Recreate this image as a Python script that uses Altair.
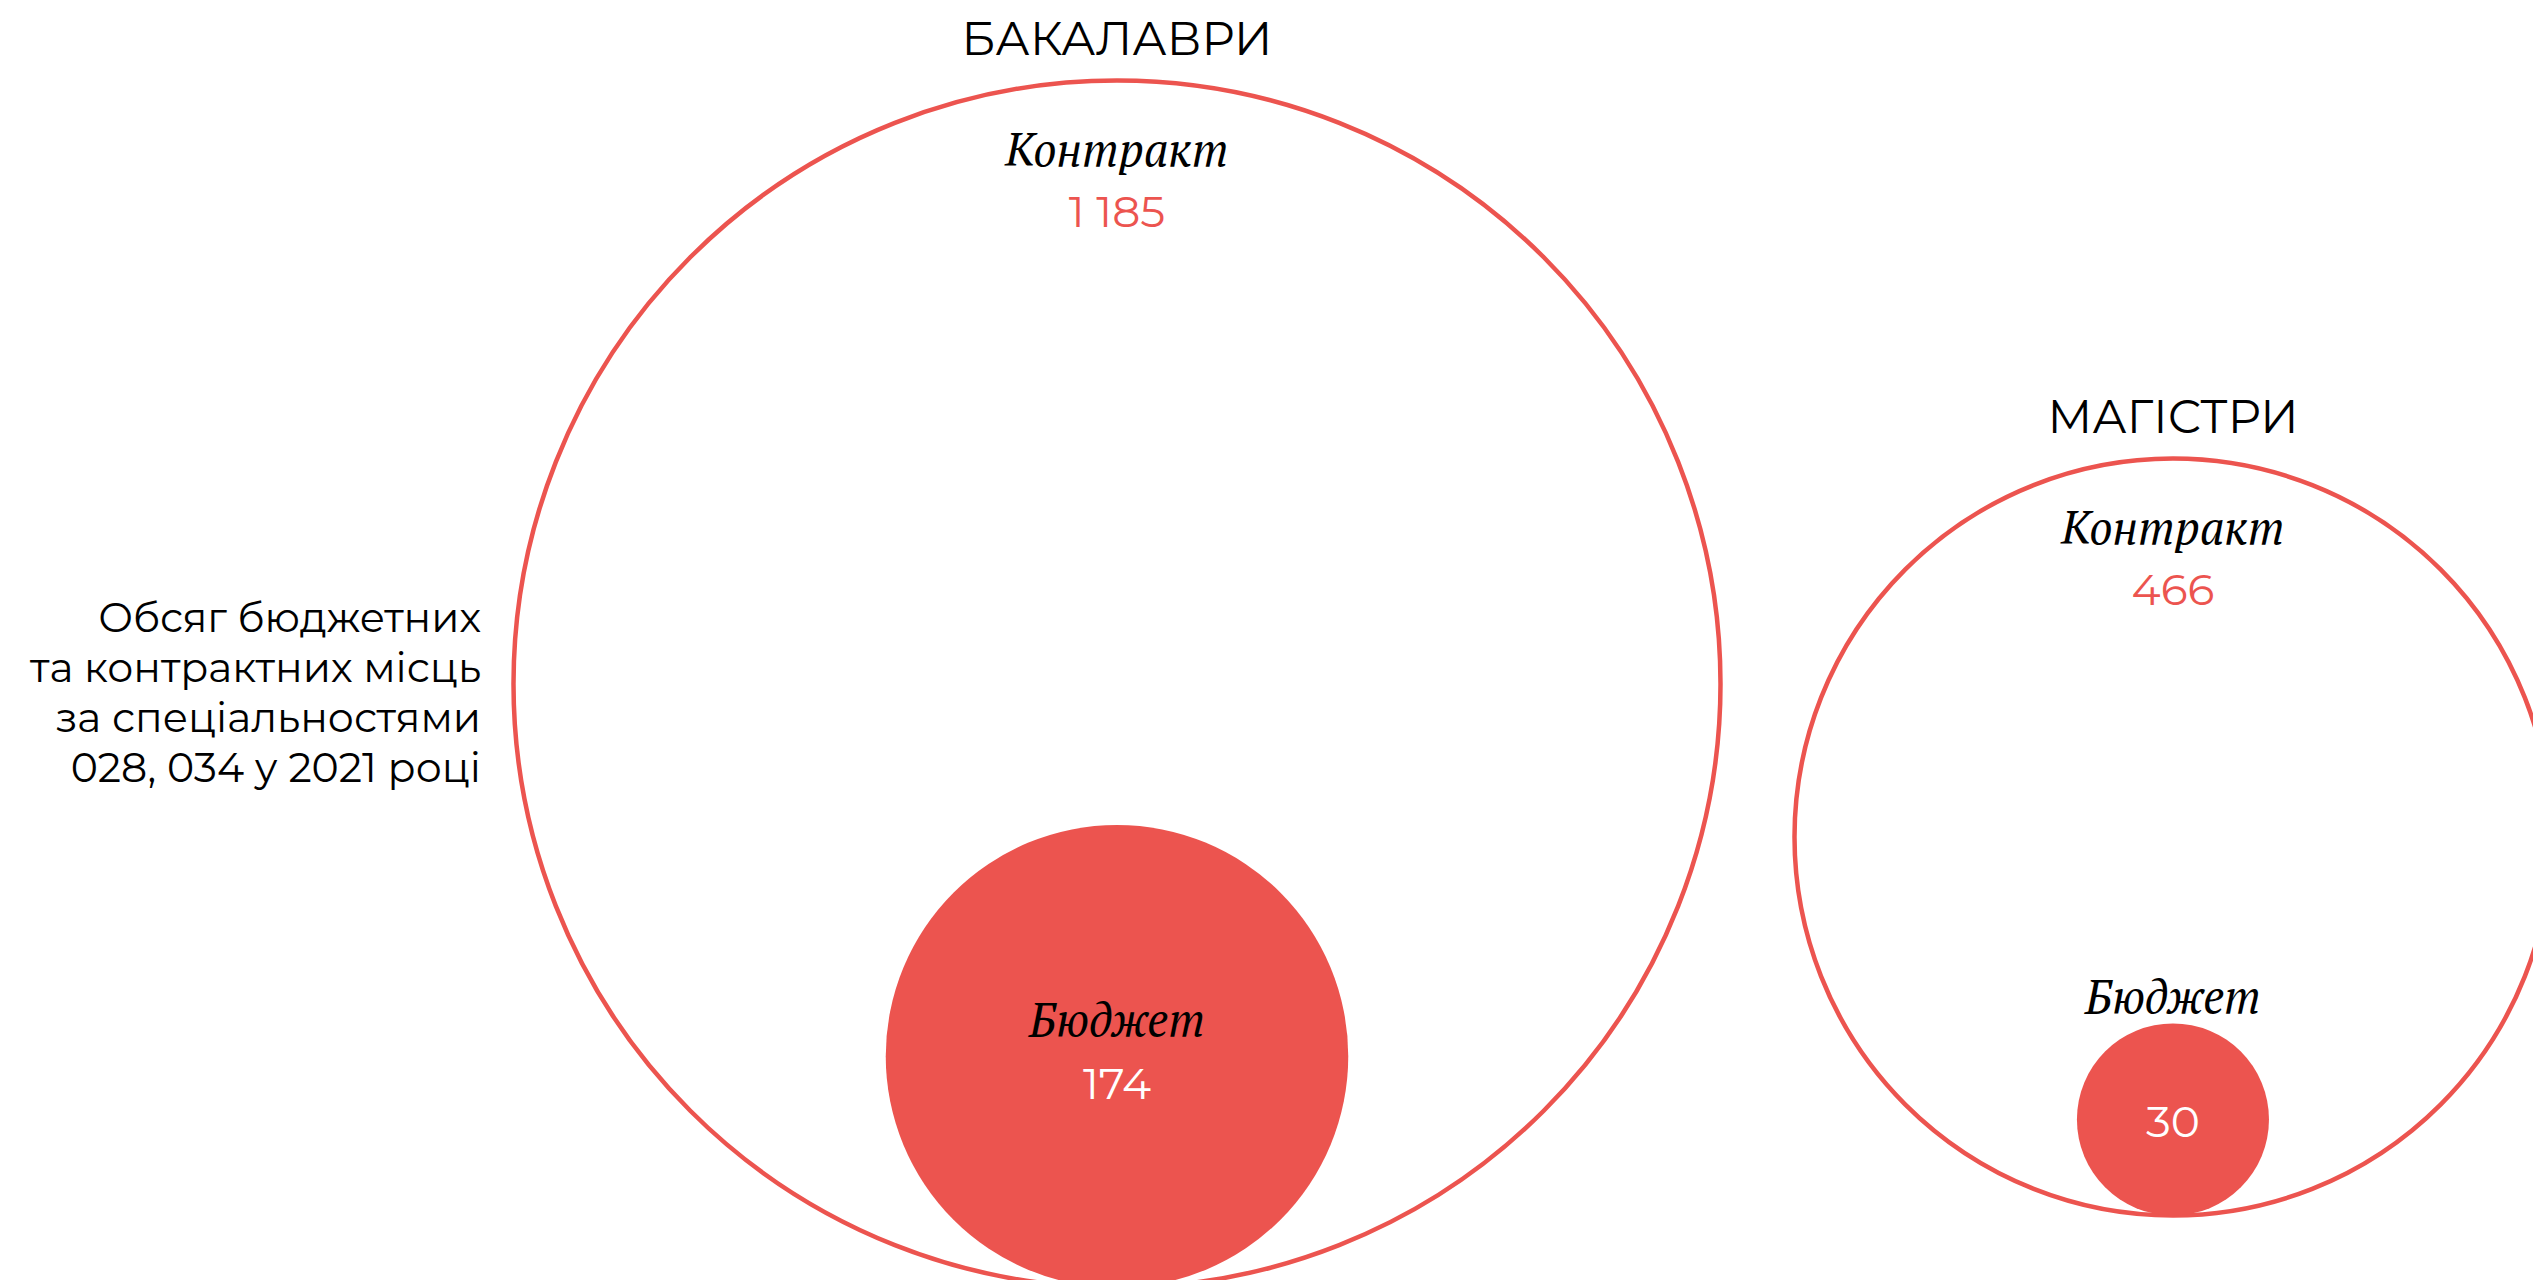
import math
import pandas as pd
import altair as alt

# ---------------- data ----------------
levels = ["БАКАЛАВРИ", "МАГІСТРИ"]
contract_places = [1185, 466]
budget_places = [174, 30]
contract_word = "Контракт"
budget_word = "Бюджет"
description = ["Обсяг бюджетних", "та контрактних місць", "за спеціальностями", "028, 034 у 2021 році"]

# ---------------- layout / style ----------------
PLOT_W, PLOT_H = 2525, 1272
ORIGIN = 8
FIRST_CX = 1117
CENTER_Y = [684, 837]
GAP = 74
MAX_D = 1207
RED = "#EC544F"
SANS = "Montserrat, Inter, Noto Sans, sans-serif"
SERIF = "PT Serif, Noto Serif, Merriweather, DejaVu Serif, serif"

vmax = max(contract_places)


def radius(v):
    return MAX_D / 2 * math.sqrt(v / vmax)


circ_rows, text_rows = [], []
cx = None
prev_r = None
for i, lvl in enumerate(levels):
    R = radius(contract_places[i])
    rb = radius(budget_places[i])
    cx = FIRST_CX if cx is None else cx + prev_r + GAP + R
    prev_r = R
    cy = CENTER_Y[i]
    cyb = cy + R - rb
    circ_rows.append(dict(level=lvl, kind="contract", x=cx, y=cy, v=contract_places[i]))
    circ_rows.append(dict(level=lvl, kind="budget", x=cx, y=cyb, v=budget_places[i]))
    top = cy - R
    text_rows.append(dict(style="title", x=cx, y=top - 26, t=lvl))
    text_rows.append(dict(style="label", x=cx, y=top + 85, t=contract_word))
    text_rows.append(dict(style="cval", x=cx, y=top + 146,
                          t=f"{contract_places[i]:,}".replace(",", " ")))
    if rb > 150:
        text_rows.append(dict(style="label", x=cx, y=cyb - 20, t=budget_word))
        text_rows.append(dict(style="bval", x=cx, y=cyb + 43, t=str(budget_places[i])))
    else:
        text_rows.append(dict(style="label", x=cx, y=cyb - rb - 10, t=budget_word))
        text_rows.append(dict(style="bval", x=cx, y=cyb + 18, t=str(budget_places[i])))

circles = pd.DataFrame(circ_rows)
texts = pd.DataFrame(text_rows)
desc = pd.DataFrame([dict(x=481, y=620, t=description)])

xs = alt.Scale(domain=[ORIGIN, ORIGIN + PLOT_W], nice=False, zero=False)
ys = alt.Scale(domain=[ORIGIN, ORIGIN + PLOT_H], nice=False, zero=False, reverse=True)
ss = alt.Scale(type="linear", domain=[0, vmax], range=[0, MAX_D ** 2], zero=True)

X = alt.X("x:Q", scale=xs, axis=None)
Y = alt.Y("y:Q", scale=ys, axis=None)
S = alt.Size("v:Q", scale=ss, legend=None)

contract_c = alt.Chart(circles).transform_filter(alt.datum.kind == "contract").mark_point(
    shape="circle", filled=False, stroke=RED, strokeWidth=4.5, opacity=1, clip=True
).encode(x=X, y=Y, size=S)

budget_c = alt.Chart(circles).transform_filter(alt.datum.kind == "budget").mark_circle(
    color=RED, opacity=1, clip=True
).encode(x=X, y=Y, size=S)


def text_layer(style, **kw):
    return alt.Chart(texts).transform_filter(alt.datum.style == style).mark_text(
        align="center", baseline="alphabetic", **kw
    ).encode(x=X, y=Y, text="t:N")


titles = text_layer("title", font=SANS, fontSize=46.5, fontWeight=400, color="#000000")
labels = text_layer("label", font=SERIF, fontSize=46, fontStyle="italic", color="#000000")
cvals = text_layer("cval", font=SANS, fontSize=44, fontWeight=400, color=RED)
bvals = text_layer("bval", font=SANS, fontSize=44, fontWeight=400, color="#FFFFFF")

desc_t = alt.Chart(desc).mark_text(
    align="right", baseline="middle", font=SANS, fontSize=41, fontWeight=400,
    lineHeight=50, color="#000000"
).encode(x=X, y=Y, text="t")

chart = alt.layer(contract_c, budget_c, titles, labels, cvals, bvals, desc_t).properties(
    width=PLOT_W, height=PLOT_H, padding=0, autosize=alt.AutoSizeParams(type="none"),
    background="white"
).configure_view(stroke=None)

chart.save("out.html", embed_options={"renderer": "svg", "actions": False})
